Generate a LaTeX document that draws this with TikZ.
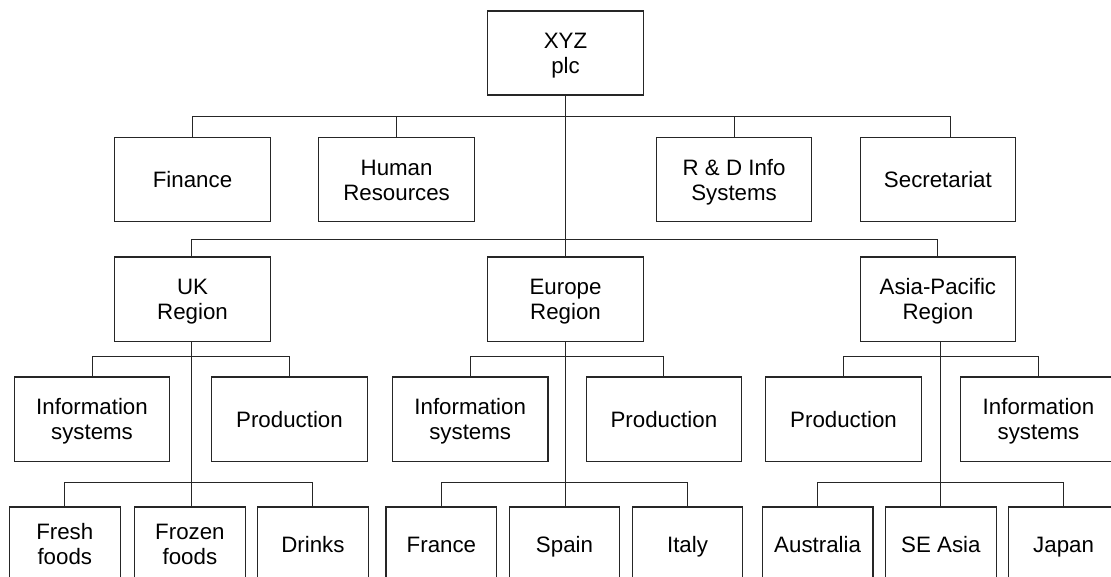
\documentclass[tikz,border=0pt]{standalone}
\usepackage{fontspec}
\setmainfont{Liberation Sans}
\newcommand\mt{\rule{0pt}{21pt}}
\newcommand\mb{\rule[-5pt]{0pt}{5pt}}
\begin{document}
\begin{tikzpicture}[x=1pt,y=-1pt,
  box/.style={draw=black!85,line width=1.1pt,rectangle,inner sep=0pt,align=center,
    font=\fontsize{22.3}{25}\selectfont,minimum height=84.5pt},
  bw/.style={box,minimum width=155.5pt},
  sw/.style={box,minimum width=110.8pt,minimum height=74pt},
  link/.style={draw=black!85,line width=1pt}]
\useasboundingbox (0,0) rectangle (1111,577);
\clip (0,0) rectangle (1111,577);
\fill[white] (0,0) rectangle (1111,577);
% level 1
\node[bw,minimum height=84pt] (xyz) at (565.5,53) {\mt XYZ\\plc\mb};
% level 2
\node[bw] (fin) at (192.5,179.6) {\mt Finance\mb};
\node[bw] (hr)  at (396.6,179.6) {\mt Human\\Resources\mb};
\node[bw] (rd)  at (734.1,179.6) {\mt R \& D Info\\Systems\mb};
\node[bw] (sec) at (937.9,179.6) {\mt Secretariat\mb};
% level 3
\node[bw] (uk) at (192.5,299.3) {\mt UK\\Region\mb};
\node[bw] (eu) at (565.5,299.3) {\mt Europe\\Region\mb};
\node[bw] (ap) at (937.9,299.3) {\mt Asia-Pacific\\Region\mb};
% level 4
\node[bw] (ukis) at (92,419.2)   {\mt Information\\systems\mb};
\node[bw] (ukpr) at (289.5,419.2) {\mt Production\mb};
\node[bw] (euis) at (470.2,419.2) {\mt Information\\systems\mb};
\node[bw] (eupr) at (663.9,419.2) {\mt Production\mb};
\node[bw] (appr) at (843.5,419.2) {\mt Production\mb};
\node[bw] (apis) at (1038.5,419.2) {\mt Information\\systems\mb};
% level 5
\node[sw] (ff) at (64.8,544)  {\mt Fresh\\foods\mb};
\node[sw] (fz) at (189.9,544) {\mt Frozen\\foods\mb};
\node[sw] (dr) at (312.9,544) {\mt Drinks\mb};
\node[sw] (fr) at (441.4,544) {\mt France\mb};
\node[sw] (sp) at (564.5,544) {\mt Spain\mb};
\node[sw] (it) at (687.5,544) {\mt Italy\mb};
\node[sw] (au) at (817.6,544) {\mt Australia\mb};
\node[sw] (se) at (940.9,544) {\mt SE Asia\mb};
\node[sw] (jp) at (1063.6,544) {\mt Japan\mb};
% bus levels
\coordinate (b2) at (0,116.3);
\coordinate (b3) at (0,239.3);
\coordinate (b4) at (0,356);
\coordinate (b5) at (0,482);
% connector attachment points
\coordinate (secc) at (950.7,137.3);
\coordinate (ukc) at (191.8,257);
\coordinate (apc) at (937.5,257);
\coordinate (ukt) at (191.8,341.7);
\coordinate (fzc) at (191.8,507);
\coordinate (eut) at (565.2,341.7);
\coordinate (spc) at (565.2,507);
\coordinate (apt) at (940.4,341.7);
\coordinate (sec5) at (940.4,507);
% top trunk
\draw[link] (xyz.south) -- (eu.north);
\draw[link] (fin.north) -- (fin.north |- b2) -- (secc |- b2) -- (secc);
\draw[link] (hr.north) -- (hr.north |- b2);
\draw[link] (rd.north) -- (rd.north |- b2);
\draw[link] (ukc) -- (ukc |- b3) -- (apc |- b3) -- (apc);
% UK
\draw[link] (ukt) -- (fzc);
\draw[link] (ukis.north) -- (ukis.north |- b4) -- (ukpr.north |- b4) -- (ukpr.north);
\draw[link] (ff.north) -- (ff.north |- b5) -- (dr.north |- b5) -- (dr.north);
% Europe
\draw[link] (eut) -- (spc);
\draw[link] (euis.north) -- (euis.north |- b4) -- (eupr.north |- b4) -- (eupr.north);
\draw[link] (fr.north) -- (fr.north |- b5) -- (it.north |- b5) -- (it.north);
% Asia-Pacific
\draw[link] (apt) -- (sec5);
\draw[link] (appr.north) -- (appr.north |- b4) -- (apis.north |- b4) -- (apis.north);
\draw[link] (au.north) -- (au.north |- b5) -- (jp.north |- b5) -- (jp.north);
\end{tikzpicture}
\end{document}
